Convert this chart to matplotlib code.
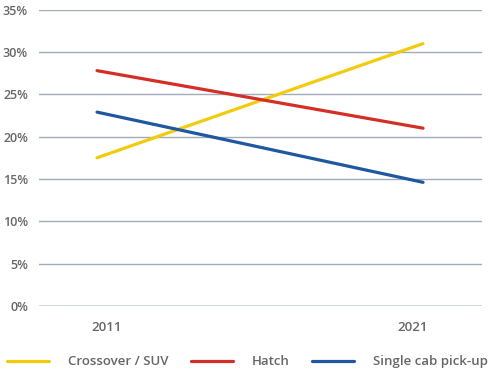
import matplotlib
matplotlib.use("Agg")
import matplotlib.pyplot as plt
import matplotlib.transforms as mtransforms
from matplotlib.ticker import FuncFormatter

years = ["2011", "2021"]
crossover = [17.5, 31.0]
hatch = [27.8, 21.0]
single_cab = [22.9, 14.6]
series_names = ["Crossover / SUV", "Hatch", "Single cab pick-up"]
colors = ["#f2cc0c", "#d42f27", "#1f57a0"]
yticks = [0, 5, 10, 15, 20, 25, 30, 35]

plt.rcParams['font.family'] = ['Open Sans', 'DejaVu Sans']
txt = "#666666"

fig = plt.figure(figsize=(4.95, 3.71), dpi=100)
ax = fig.add_axes([0.0788, 0.1757, 0.895, 0.798])

x = list(range(len(years)))
for vals, name, c in zip([crossover, hatch, single_cab], series_names, colors):
    ax.plot(x, vals, color=c, lw=2.3, label=name, solid_capstyle='round')

ax.set_xlim(-0.178, 1.181)
ax.set_ylim(0, 35)
ax.set_yticks(yticks)
ax.yaxis.set_major_formatter(FuncFormatter(lambda v, p: f"{int(v)}%"))
ax.set_xticks(x)
ax.set_xticklabels(years)
ax.grid(axis='y', color='#9fadba', lw=1.0)
ax.set_axisbelow(True)
for s in ax.spines.values():
    s.set_visible(False)
ax.axhline(0, color='#5f86b0', lw=1.0, zorder=1)
ax.tick_params(axis='both', length=0, labelcolor=txt, labelsize=9)
ax.tick_params(axis='y', pad=8)
ax.tick_params(axis='x', pad=11, labelsize=9.5)
for lab in ax.get_xticklabels() + ax.get_yticklabels():
    lab.set_fontweight('semibold')

# x labels sit slightly inward of the line end points
xlabels = ax.get_xticklabels()
for lab, dx in zip(xlabels, [10, -10]):
    off = mtransforms.ScaledTranslation(dx / 100, 0, fig.dpi_scale_trans)
    lab.set_transform(lab.get_transform() + off)

leg = fig.legend(loc='lower left', bbox_to_anchor=(4 / 495, 0.0), ncol=3, frameon=False,
                 handlelength=3.2, handletextpad=1.45, columnspacing=1.67,
                 borderpad=0.2, borderaxespad=0.0,
                 labelcolor=txt, prop={'weight': 'semibold', 'size': 9.5})

fig.savefig("out.png", dpi=100)
